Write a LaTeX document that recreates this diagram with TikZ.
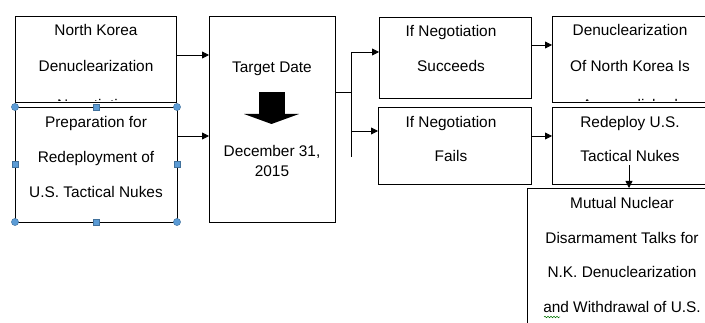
\documentclass[tikz,border=0pt]{standalone}
\usepackage{fontspec}
\setmainfont{Liberation Sans}
\usetikzlibrary{arrows.meta,decorations.pathmorphing}
\definecolor{hfill}{RGB}{91,155,213}
\definecolor{hdraw}{RGB}{65,113,156}
\begin{document}
\begin{tikzpicture}[x=1pt,y=-1pt,
  box/.style={draw=black,line width=0.8pt,rectangle,anchor=north west,inner sep=0pt,outer sep=0pt},
  txt/.style={anchor=base,inner sep=0pt,font=\fontsize{15.4}{18}\selectfont},
  arr/.style={line width=0.8pt,-{Triangle[length=7pt,width=7pt]}},
  ln/.style={line width=0.8pt},
  handle/.style={fill=hfill,draw=hdraw,line width=0.4pt},
]
\useasboundingbox (0,0) rectangle (705,323);
\clip (0,0) rectangle (705,323);
% boxes
\node[box,minimum width=161pt,minimum height=86pt] (b1) at (15,16) {};
\node[box,minimum width=162pt,minimum height=115pt] (b2) at (15,107) {};
\node[box,minimum width=126pt,minimum height=206pt] (tgt) at (209,16) {};
\node[box,minimum width=152pt,minimum height=81pt] (succ) at (379,17) {};
\node[box,minimum width=153pt,minimum height=77pt] (fail) at (378,107) {};
\node[box,minimum width=160pt,minimum height=86pt] (den) at (552,16) {};
\node[box,minimum width=160pt,minimum height=77pt] (redep) at (552,107) {};
\node[box,minimum width=193pt,minimum height=160pt] (mut) at (527,188) {};
% texts
\node[txt] (t1a) at (96,36) {North Korea};
\node[txt] (t1b) at (96,72) {Denuclearization};
\begin{scope}
  \clip (15,16) rectangle (176,101);
  \node[txt] (t1c) at (96,111) {Negotiation};
\end{scope}
\node[txt] (t2a) at (96,128) {Preparation for};
\node[txt] (t2b) at (96,163) {Redeployment of};
\node[txt] (t2c) at (96,198) {U.S. Tactical Nukes};
\node[txt] (t3a) at (272,73) {Target Date};
\node[txt] (t3b) at (272,157) {December 31,};
\node[txt] (t3c) at (272,177) {2015};
\node[txt] (t4a) at (451,37) {If Negotiation};
\node[txt] (t4b) at (451,72) {Succeeds};
\node[txt] (t5a) at (451,128) {If Negotiation};
\node[txt] (t5b) at (451,162) {Fails};
\node[txt] (t6a) at (630,36) {Denuclearization};
\node[txt] (t6b) at (630,72) {Of North Korea Is};
\begin{scope}
  \clip (552,16) rectangle (712,101);
  \node[txt] (t6c) at (630,111) {Accomplished};
\end{scope}
\node[txt] (t7a) at (630,128) {Redeploy U.S.};
\node[txt] (t7b) at (630,162) {Tactical Nukes};
\node[txt] (t8a) at (622,209) {Mutual Nuclear};
\node[txt] (t8b) at (622,244) {Disarmament Talks for};
\node[txt] (t8c) at (622,278) {N.K. Denuclearization};
\node[txt] (t8d) at (622,313) {and Withdrawal of U.S.};
\draw[decorate,decoration={snake,amplitude=0.8pt,segment length=3pt},draw=green!45!black,line width=0.5pt] (544,317) -- (560,317);
% block arrow
\fill[black] (259,92) rectangle (285,114);
\fill[black] (244,114) -- (299,114) -- (271.5,124) -- cycle;
% connectors
\draw[arr] ([yshift=4pt]b1.east) -- ([yshift=4pt]b1.east -| tgt.west);
\draw[arr] ([yshift=28.5pt]b2.east) -- ([yshift=28.5pt]b2.east -| tgt.west);
\coordinate (j) at (351,92);
\coordinate (jt) at (351,52);
\coordinate (jb) at (351,157);
\draw[ln] (tgt.east |- j) -- (j);
\draw[ln] (jt) -- (jb);
\draw[arr] (jt) -- (jt -| succ.west);
\coordinate (jf) at (351,131);
\draw[arr] (jf) -- (jf -| fail.west);
\draw[arr] ([yshift=12.5pt]succ.east) -- ([yshift=12.5pt]succ.east -| den.west);
\draw[arr] ([yshift=9.5pt]fail.east) -- ([yshift=9.5pt]fail.east -| redep.west);
\coordinate (dn) at (629,165);
\draw[arr] (dn) -- (dn |- mut.north);
% selection handles
\foreach \p in {b2.north west,b2.north east,b2.south west,b2.south east}
  \draw[handle] (\p) circle (3.6pt);
\foreach \p in {b2.north,b2.south,b2.west,b2.east}
  \draw[handle] ([xshift=-3.2pt,yshift=-3.2pt]\p) rectangle ([xshift=3.2pt,yshift=3.2pt]\p);
\end{tikzpicture}
\end{document}
